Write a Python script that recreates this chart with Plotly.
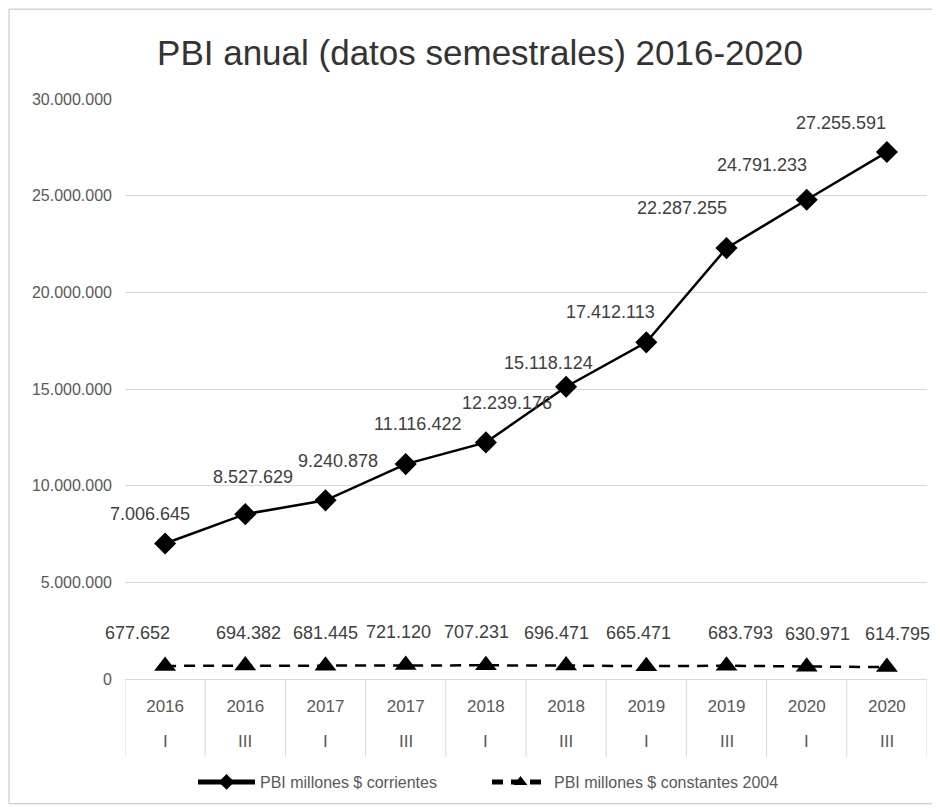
import plotly.graph_objects as go

# ---- data ----
years = ["2016", "2016", "2017", "2017", "2018", "2018", "2019", "2019", "2020", "2020"]
semesters = ["I", "III", "I", "III", "I", "III", "I", "III", "I", "III"]
pbi_corrientes = [7006645, 8527629, 9240878, 11116422, 12239176,
                  15118124, 17412113, 22287255, 24791233, 27255591]
pbi_constantes = [677652, 694382, 681445, 721120, 707231,
                  696471, 665471, 683793, 630971, 614795]

title_text = "PBI anual (datos semestrales) 2016-2020"
name_corr = "PBI millones $ corrientes"
name_const = "PBI millones $ constantes 2004"

# ---- label placement (style, pixel shifts) ----
cur_label_dx = [-15, 8, 12, 12, 21, -18, -36, -45, -45, -46]
cur_label_dy = [30, 37, 39, 40, 39, 24, 30, 40, 35, 29]
con_label_dx = [-28, 3, 0, -7, -9, -10, -8, 14, 11, 11]
con_label_dy = 33

FONT = "Liberation Sans"
GRID = "#d9d9d9"
TXT = "#595959"

# page body has an 8px margin: figure is sized/offset to compensate
OFF = 8
W, H = 940 - OFF, 810 - OFF
PL, PR, PT, PB = 125, 927, 99, 680  # plot area in page pixels
PW, PH = PR - PL, PB - PT

categories = [f"{y} {s}" for y, s in zip(years, semesters)]


def fmt(v):
    return f"{v:,}".replace(",", ".")


fig = go.Figure()
fig.add_trace(go.Scatter(
    x=categories, y=pbi_corrientes, mode="lines+markers", name=name_corr,
    line=dict(color="black", width=2.5),
    marker=dict(symbol="diamond", size=17, color="black"),
))
fig.add_trace(go.Scatter(
    x=categories, y=pbi_constantes, mode="lines+markers", name=name_const,
    line=dict(color="black", width=2.5, dash="11px,8px"),
    marker=dict(symbol="triangle-up", size=19, color="black"),
))

annotations = []
for c, v, dx, dy in zip(categories, pbi_corrientes, cur_label_dx, cur_label_dy):
    annotations.append(dict(x=c, y=v, xref="x", yref="y", text=fmt(v), showarrow=False,
                            xshift=dx, yshift=dy, font=dict(size=18, color="#404040", family=FONT)))
for c, v, dx in zip(categories, pbi_constantes, con_label_dx):
    annotations.append(dict(x=c, y=v, xref="x", yref="y", text=fmt(v), showarrow=False,
                            xshift=dx, yshift=con_label_dy, font=dict(size=18, color="#404040", family=FONT)))
for c, s in zip(categories, semesters):
    annotations.append(dict(x=c, y=-(743 - PB) / PH, xref="x", yref="paper", text=s, showarrow=False,
                            yanchor="middle", font=dict(size=17, color=TXT, family=FONT)))

shapes = []
for i in range(len(categories) + 1):
    shapes.append(dict(type="line", xref="x", yref="paper", x0=i - 0.5, x1=i - 0.5,
                       y0=0, y1=-(758 - PB) / PH, line=dict(color=GRID, width=1)))
# outer chart border
shapes.append(dict(type="rect", xref="paper", yref="paper",
                   x0=(9 - PL) / PW, x1=(934 - PL) / PW,
                   y0=(PB - 805) / PH, y1=(PB - 9) / PH,
                   line=dict(color="#bfbfbf", width=1), layer="below"))

fig.update_layout(
    width=W, height=H,
    margin=dict(l=PL - OFF, r=940 - PR, t=PT - OFF, b=H - (PB - OFF)),
    paper_bgcolor="white", plot_bgcolor="white",
    separators=",.",
    font=dict(family=FONT, color=TXT),
    title=dict(text=title_text, x=(480 - OFF) / W, xref="container", xanchor="center",
               y=1 - (53 - OFF) / H, yref="container", yanchor="middle",
               font=dict(size=35, color="#333333", family=FONT)),
    xaxis=dict(type="category", categoryorder="array", categoryarray=categories,
               range=[-0.5, len(categories) - 0.5],
               tickmode="array", tickvals=categories, ticktext=years,
               showgrid=False, showline=True, linecolor=GRID, linewidth=1,
               ticks="", ticklabelstandoff=12,
               tickfont=dict(size=17, color=TXT, family=FONT)),
    yaxis=dict(range=[0, 30000000], dtick=5000000, tickformat=",d",
               showgrid=True, gridcolor=GRID, gridwidth=1, zeroline=False,
               showline=False, ticks="", ticklabelstandoff=12,
               tickfont=dict(size=16, color=TXT, family=FONT)),
    legend=dict(orientation="h", x=(487 - PL) / PW, xanchor="center",
                y=-(782 - PB) / PH, yanchor="middle",
                font=dict(size=16, color=TXT, family=FONT), itemwidth=57,
                itemsizing="constant", entrywidth=222, entrywidthmode="pixels"),
    showlegend=True,
    annotations=annotations,
    shapes=shapes,
)

fig.write_html("out.html")
